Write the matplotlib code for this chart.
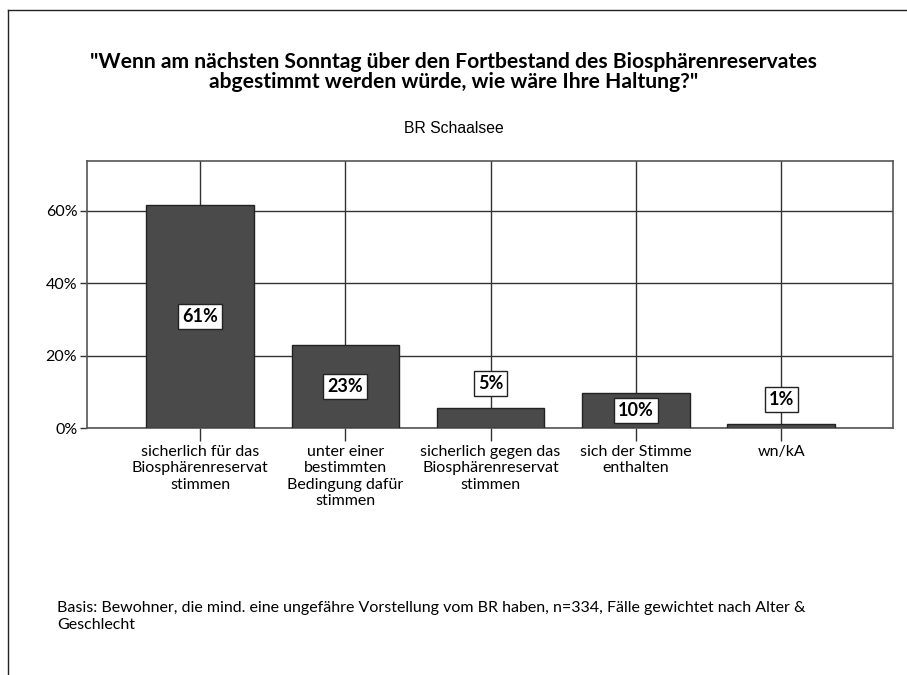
import matplotlib.pyplot as plt
import numpy as np
from matplotlib.lines import Line2D
from matplotlib.ticker import FuncFormatter

# answers and shares (percent)
categories = ["sicherlich für das\nBiosphärenreservat\nstimmen",
              "unter einer\nbestimmten\nBedingung dafür\nstimmen",
              "sicherlich gegen das\nBiosphärenreservat\nstimmen",
              "sich der Stimme\nenthalten",
              "wn/kA"]
shares = [61.5, 23.0, 5.4, 9.7, 1.0]
share_labels = ["61%", "23%", "5%", "10%", "1%"]
y_ticks = [0, 20, 40, 60]

title = ('"Wenn am nächsten Sonntag über den Fortbestand des Biosphärenreservates\n'
         'abgestimmt werden würde, wie wäre Ihre Haltung?"')
subtitle = "BR Schaalsee"
footer = ("Basis: Bewohner, die mind. eine ungefähre Vorstellung vom BR haben, n=334, "
          "Fälle gewichtet nach Alter &\nGeschlecht")

fnt = "Lato"
grid_col = "#333333"

fig = plt.figure(figsize=(9.07, 6.75), dpi=100)
ax = fig.add_axes([0.0959, 0.3659, 0.8887, 0.3956])

x = np.arange(len(categories))
ax.bar(x, shares, width=0.74, color="#4a4a4a", edgecolor="#222222", linewidth=1.0, zorder=3)

ax.set_xlim(-0.778, 4.77)
ax.set_ylim(0, 73.8)
ax.set_xticks(x)
ax.set_xticklabels(categories, fontsize=11.5, family=fnt, linespacing=1.22)
ax.set_yticks(y_ticks)
ax.yaxis.set_major_formatter(FuncFormatter(lambda v, p: "%d%%" % v))
for lab in ax.get_yticklabels():
    lab.set_family(fnt)
    lab.set_fontsize(11.5)
ax.tick_params(axis="x", length=9, width=1, color=grid_col, pad=3)
ax.tick_params(axis="y", length=5, width=1, color=grid_col, pad=2)
ax.grid(True, color=grid_col, linewidth=1, zorder=1)
ax.set_axisbelow(True)
for s in ax.spines.values():
    s.set_color("#555555")
    s.set_linewidth(1.2)

# value labels: inside the bar when tall enough, else above it
for xi, v, lab in zip(x, shares, share_labels):
    box = dict(boxstyle="square,pad=0.22", facecolor="white", edgecolor="#222222", linewidth=1)
    if v > 8:
        ax.text(xi, v / 2, lab, ha="center", va="center", fontsize=13, family=fnt,
                fontweight="bold", bbox=box, zorder=5)
    else:
        ax.annotate(lab, (xi, v), xytext=(0, 18), textcoords="offset points",
                    ha="center", va="center", fontsize=13, family=fnt,
                    fontweight="bold", bbox=box, zorder=5)

fig.text(0.5, 0.893, title, ha="center", va="center", fontsize=15.2, family=fnt,
         fontweight="bold", linespacing=1.0)
fig.text(0.5, 0.81, subtitle, ha="center", va="center", fontsize=11.3, family="Liberation Sans")
fig.text(0.063, 0.087, footer, ha="left", va="center", fontsize=11.5, family=fnt, linespacing=1.25)

# frame lines at top and left
fig.add_artist(Line2D([0.0088, 1.0], [0.985, 0.985], color="#222222", linewidth=1))
fig.add_artist(Line2D([0.0088, 0.0088], [0.0, 0.985], color="#222222", linewidth=1))

fig.savefig("out.png", dpi=100)
